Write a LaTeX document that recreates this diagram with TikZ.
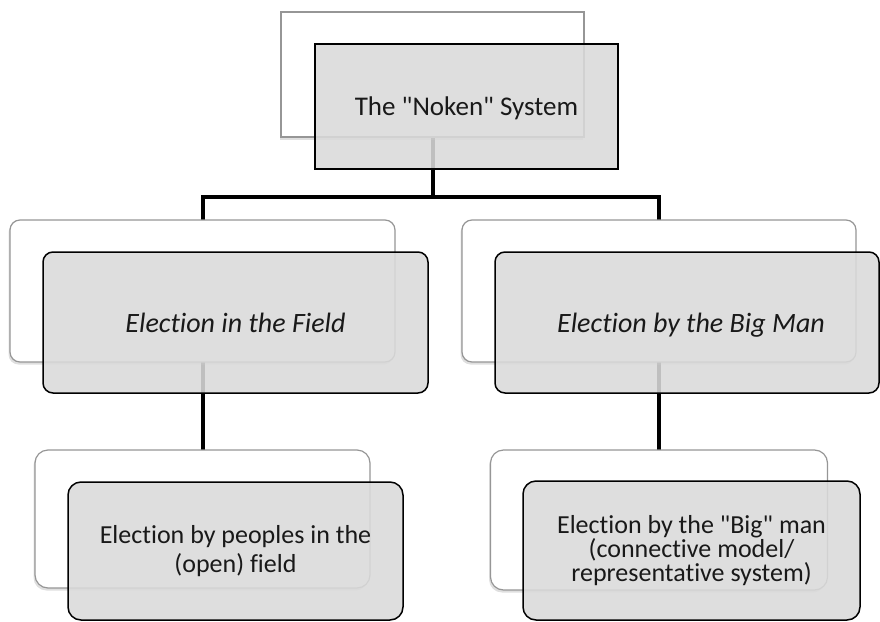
\documentclass[tikz,border=0pt]{standalone}
\usepackage{fontspec}
\newfontfamily\calfont{Carlito}[Ligatures={NoCommon}]
\usetikzlibrary{shadows}
\definecolor{backedge}{RGB}{150,150,150}
\definecolor{frontfill}{RGB}{218,218,218}
\definecolor{txt}{RGB}{25,25,25}
\pgfdeclarelayer{bg}
\pgfsetlayers{bg,main}
\begin{document}
\begin{tikzpicture}[x=1pt,y=-1pt,
  backbox/.style={draw=backedge, line width=1.2pt, fill=white, inner sep=0pt, outer sep=0pt,
    drop shadow={shadow xshift=-1.5pt, shadow yshift=-2.5pt, opacity=0.25}},
  frontbox/.style={draw=black, line width=1.5pt, fill=frontfill, fill opacity=0.88, text opacity=1,
    inner sep=0pt, outer sep=0pt, align=center, text=txt},
  conn/.style={line width=4pt, draw=black},
  topfont/.style={font=\calfont\fontsize{27}{32}\selectfont, text height=22pt, text depth=5pt},
  midfont/.style={font=\calfont\fontsize{28}{33}\selectfont\itshape, text height=25pt, text depth=6pt},
  lowfont/.style={font=\calfont\fontsize{26}{29}\selectfont},
  lowfonttight/.style={font=\calfont\fontsize{26}{24}\selectfont}]
\useasboundingbox (0,0) rectangle (880,621);
% back boxes
\node[backbox, minimum width=303pt, minimum height=125pt] (topB) at (432.5,74.5) {};
\node[backbox, rounded corners=10pt, minimum width=385pt, minimum height=142pt] (lB) at (202.5,291) {};
\node[backbox, rounded corners=10pt, minimum width=394pt, minimum height=142pt] (rB) at (659,291) {};
\node[backbox, rounded corners=13pt, minimum width=335pt, minimum height=138pt] (llB) at (202.5,519) {};
\node[backbox, rounded corners=13pt, minimum width=337pt, minimum height=140pt] (rrB) at (659,520) {};
% front boxes
\node[frontbox, topfont, minimum width=303pt, minimum height=125pt] (topF) at (466.5,106.5) {The "Noken" System};
\node[frontbox, midfont, rounded corners=10pt, minimum width=385pt, minimum height=141pt] (lF) at (235.5,322.5) {Election in the Field};
\node[frontbox, midfont, rounded corners=10pt, minimum width=384pt, minimum height=141pt] (rF) at (687,322.5) {\hspace*{8pt}Election by the Big Man};
\node[frontbox, lowfont, rounded corners=13pt, minimum width=335pt, minimum height=138pt] (llF) at (235.5,551) {Election by peoples in the\\(open) field};
\node[frontbox, lowfonttight, rounded corners=13pt, minimum width=337pt, minimum height=139pt] (rrF) at (691.5,550.5) {Election by the "Big" man\\(connective model/\\representative system)};
% connectors
\begin{pgfonlayer}{bg}
\draw[conn] (topB.south) -- ++(0,60) coordinate (j);
\draw[conn] (lB.north) |- (j) -| (rB.north);
\draw[conn] (lB.south) -- (llB.north);
\draw[conn] (rB.south) -- (rrB.north);
\end{pgfonlayer}
\end{tikzpicture}
\end{document}
